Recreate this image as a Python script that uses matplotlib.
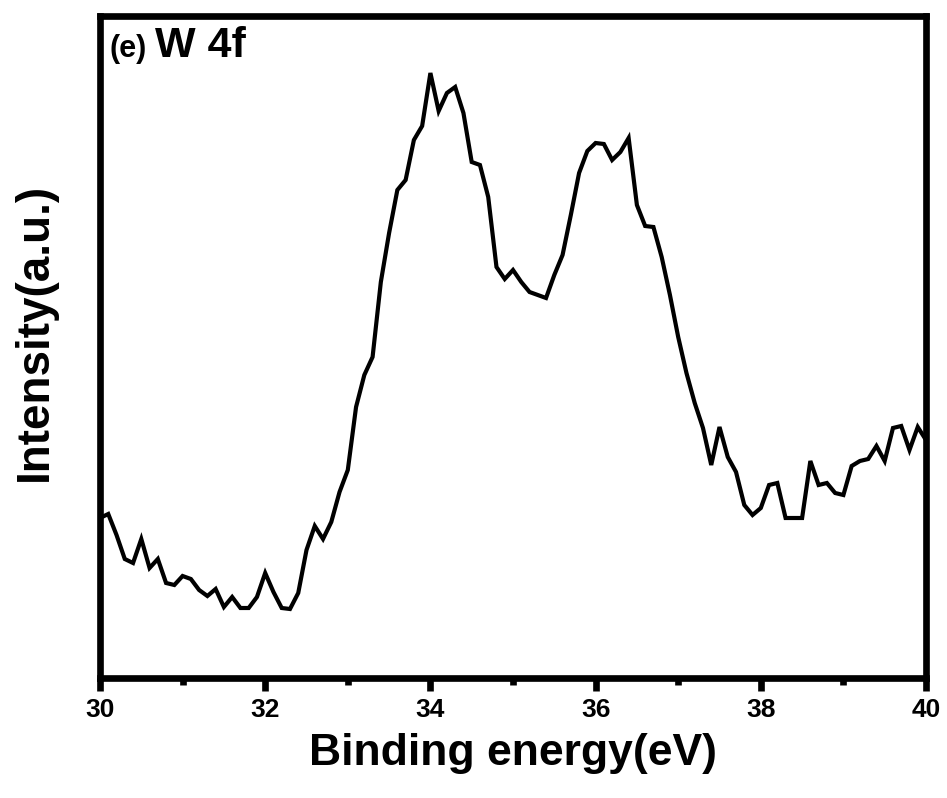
import numpy as np
import matplotlib
matplotlib.use("Agg")
import matplotlib.pyplot as plt
from matplotlib.ticker import MultipleLocator

# Binding energy (eV), sampled every 0.1 eV from 30 to 40
energy = np.linspace(30.0, 40.0, 101)
# Intensity (a.u.)
intensity = [
    162, 166, 145, 121, 117, 141, 112, 121, 97, 95,
    104, 101, 90, 84, 91, 73, 83, 72, 72, 83,
    107, 88, 72, 71, 87, 130, 154, 141, 158, 188,
    210, 273, 305, 323, 398, 447, 490, 500, 540, 554,
    607, 569, 587, 593, 567, 518, 515, 483, 413, 401,
    410, 398, 388, 385, 382, 405, 425, 465, 507, 529,
    537, 536, 520, 528, 542, 475, 454, 453, 423, 385,
    343, 307, 277, 252, 215, 253, 223, 208, 175, 165,
    172, 195, 197, 162, 162, 162, 219, 195, 197, 187,
    185, 214, 219, 221, 234, 219, 252, 254, 230, 253,
    240,
]
xticks = [30, 32, 34, 36, 38, 40]
xlabel = "Binding energy(eV)"
ylabel = "Intensity(a.u.)"
panel = "(e)"
title = "W 4f"

plt.rcParams['font.family'] = ['Liberation Sans', 'DejaVu Sans']

fig = plt.figure(figsize=(9.47, 7.98), dpi=100)
ax = fig.add_axes([100/947, 1 - 678/798, 826/947, 662/798])

ax.plot(energy, intensity, color='black', lw=3.0, solid_joinstyle='miter')

ax.set_xlim(30, 40)
ax.set_ylim(2, 664)
ax.set_xticks(xticks)
ax.xaxis.set_minor_locator(MultipleLocator(1))
ax.set_yticks([])
for s in ax.spines.values():
    s.set_linewidth(4.8)
ax.tick_params(axis='x', which='major', direction='out', length=9.6, width=4.8,
               labelsize=19, pad=5)
ax.tick_params(axis='x', which='minor', direction='out', length=4.8, width=4.8)
for lab in ax.get_xticklabels():
    lab.set_fontweight('bold')

ax.set_xlabel(xlabel, fontsize=32, fontweight='bold', labelpad=8)
ax.set_ylabel(ylabel, fontsize=33, fontweight='bold')
ax.yaxis.set_label_coords(-0.052, 0.523)

ax.text(0.012, 0.938, panel, transform=ax.transAxes, fontsize=22,
        fontweight='bold', va='baseline', ha='left')
ax.text(0.066, 0.938, title, transform=ax.transAxes, fontsize=31,
        fontweight='bold', va='baseline', ha='left')

fig.savefig("out.png", dpi=100)
